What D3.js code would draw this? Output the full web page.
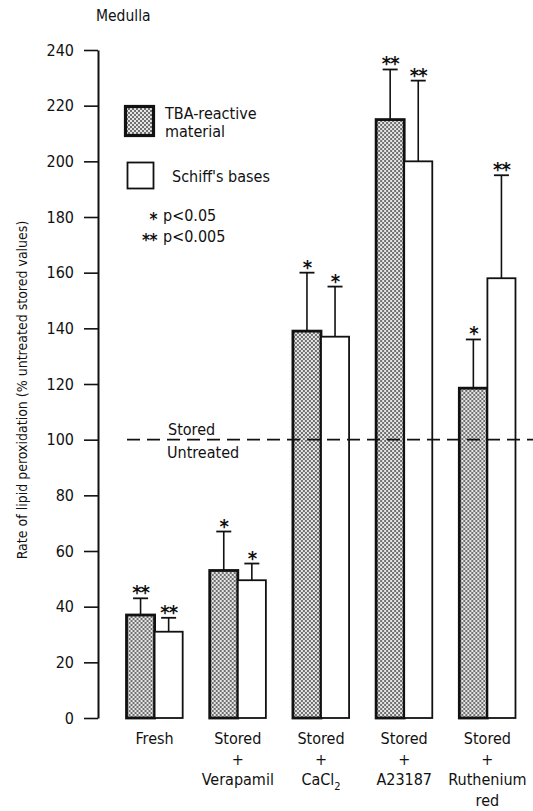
<!DOCTYPE html>
<html>
<head>
<meta charset="utf-8">
<script src="https://cdn.jsdelivr.net/npm/d3@7"></script>
<style>
  body { margin: 0; background: #fff; }
  svg { display: block; }
  text { font-family: "DejaVu Sans Condensed", "Liberation Sans Narrow", "DejaVu Sans", sans-serif; fill: #111; }
</style>
</head>
<body>
<svg id="chart" width="533" height="811"></svg>
<script>
// values (% of untreated stored values)
const categories = ["Fresh", "Verapamil", "CaCl2", "A23187", "Ruthenium"];
const tbaValues = [37, 53, 139, 215, 118.5];
const tbaErrors = [43, 67, 160, 233, 136];
const schiffValues = [31, 49.5, 137, 200, 158];
const schiffErrors = [36, 55.5, 155, 229, 195];
const tbaStars = ["**", "*", "*", "**", "*"];
const schiffStars = ["**", "*", "*", "**", "**"];
const yTicks = [0, 20, 40, 60, 80, 100, 120, 140, 160, 180, 200, 220, 240];
const labelLines = [
  ["Fresh"],
  ["Stored", "+", "Verapamil"],
  ["Stored", "+", "CaCl|2"],
  ["Stored", "+", "A23187"],
  ["Stored", "+", "Ruthenium", "red"]
];
const series = ["TBA-reactive", "Schiff's bases"];
const sigLabels = [["*", "p<0.05"], ["**", "p<0.005"]];

const svg = d3.select("#chart");

const defs = svg.append("defs");
const pat = defs.append("pattern")
  .attr("id", "stipple")
  .attr("width", 4).attr("height", 4)
  .attr("patternUnits", "userSpaceOnUse");
pat.append("rect").attr("width", 4).attr("height", 4).attr("fill", "#e6e6e6");
pat.append("rect").attr("width", 2).attr("height", 2).attr("fill", "#707070");
pat.append("rect").attr("x", 2).attr("y", 2).attr("width", 2).attr("height", 2).attr("fill", "#707070");

let y = d3.scaleLinear().domain([0, 240]).range([718, 50]);
let x0 = d3.scaleBand().domain(categories).range([113, 529])
  .paddingInner(0.325).paddingOuter(0.1625);
let x1 = d3.scaleBand().domain(series).range([0, x0.bandwidth()]);

// y axis
let yAxis = svg.append("g")
  .attr("transform", "translate(98,0)")
  .call(d3.axisLeft(y).tickValues(yTicks).tickSize(14).tickPadding(10).tickSizeOuter(0));
yAxis.select(".domain").attr("stroke", "#111").attr("stroke-width", 2);
yAxis.selectAll(".tick line").attr("stroke", "#111").attr("stroke-width", 1.6);
yAxis.selectAll(".tick text").attr("font-size", 16).attr("fill", "#111")
  .style("font-family", "'DejaVu Sans Condensed', 'DejaVu Sans', sans-serif");

svg.append("text")
  .attr("transform", "translate(27,390) rotate(-90)")
  .attr("text-anchor", "middle")
  .attr("font-size", 14)
  .text("Rate of lipid peroxidation (% untreated stored values)");

svg.append("text")
  .attr("x", 96).attr("y", 21)
  .attr("font-size", 15.5)
  .text("Medulla");

// bars
const groups = svg.selectAll(".grp")
  .data(categories)
  .enter().append("g")
  .attr("class", "grp")
  .attr("transform", d => "translate(" + x0(d) + ",0)");

function drawSeries(vals, errs, stars, key, gray) {
  groups.append("rect")
    .attr("x", x1(key))
    .attr("y", (d, i) => y(vals[i]))
    .attr("width", x1.bandwidth())
    .attr("height", (d, i) => y(0) - y(vals[i]))
    .attr("fill", gray ? "url(#stipple)" : "#fff")
    .attr("stroke", "#111")
    .attr("stroke-width", gray ? 2.8 : 1.8);

  let cx = x1(key) + x1.bandwidth() / 2;
  groups.append("line")
    .attr("x1", cx).attr("x2", cx)
    .attr("y1", (d, i) => y(vals[i]))
    .attr("y2", (d, i) => y(errs[i]))
    .attr("stroke", "#111").attr("stroke-width", 1.6);
  groups.append("line")
    .attr("x1", cx - 7.5).attr("x2", cx + 7.5)
    .attr("y1", (d, i) => y(errs[i]))
    .attr("y2", (d, i) => y(errs[i]))
    .attr("stroke", "#111").attr("stroke-width", 1.8);
  groups.append("text")
    .attr("x", cx)
    .attr("y", (d, i) => y(errs[i]) + 1)
    .attr("text-anchor", "middle")
    .attr("font-size", 20)
    .attr("font-weight", "bold")
    .attr("letter-spacing", -1)
    .text((d, i) => stars[i]);
}
drawSeries(tbaValues, tbaErrors, tbaStars, series[0], true);
drawSeries(schiffValues, schiffErrors, schiffStars, series[1], false);

// reference line at 100
svg.append("line")
  .attr("x1", 127).attr("x2", 533)
  .attr("y1", y(100)).attr("y2", y(100))
  .attr("stroke", "#111").attr("stroke-width", 1.6)
  .attr("stroke-dasharray", "13,7");
svg.append("text").attr("x", 168).attr("y", 435).attr("font-size", 16).text("Stored");
svg.append("text").attr("x", 167).attr("y", 458).attr("font-size", 16).text("Untreated");

// x labels
const xl = svg.selectAll(".xlab")
  .data(categories)
  .enter().append("text")
  .attr("class", "xlab")
  .attr("text-anchor", "middle")
  .attr("font-size", 16);
xl.each(function(d, i) {
  let t = d3.select(this);
  let cx = x0(d) + x0.bandwidth() / 2;
  labelLines[i].forEach(function(line, j) {
    let ts = t.append("tspan").attr("x", cx).attr("y", 744 + j * 20.5);
    if (line.indexOf("|") >= 0) {
      let parts = line.split("|");
      ts.text(parts[0]);
      t.append("tspan").attr("dy", 5).attr("font-size", 11).text(parts[1]);
    } else {
      ts.text(line);
    }
  });
});

// legend
svg.append("rect").attr("x", 125.5).attr("y", 106.5).attr("width", 28).attr("height", 29)
  .attr("fill", "url(#stipple)").attr("stroke", "#111").attr("stroke-width", 3.2);
svg.append("text").attr("x", 165).attr("y", 119).attr("font-size", 16).text("TBA-reactive");
svg.append("text").attr("x", 165).attr("y", 137).attr("font-size", 16).text("material");
svg.append("rect").attr("x", 127.5).attr("y", 162.5).attr("width", 26).attr("height", 26)
  .attr("fill", "#fff").attr("stroke", "#111").attr("stroke-width", 1.8);
svg.append("text").attr("x", 172).attr("y", 182).attr("font-size", 16).text("Schiff's bases");

sigLabels.forEach(function(s, i) {
  svg.append("text")
    .attr("x", 157).attr("y", 225 + i * 21)
    .attr("text-anchor", "end")
    .attr("font-size", 17).attr("font-weight", "bold")
    .attr("letter-spacing", -0.5)
    .text(s[0]);
  svg.append("text")
    .attr("x", 163).attr("y", 221 + i * 21)
    .attr("font-size", 16).text(s[1]);
});
</script>
</body>
</html>
